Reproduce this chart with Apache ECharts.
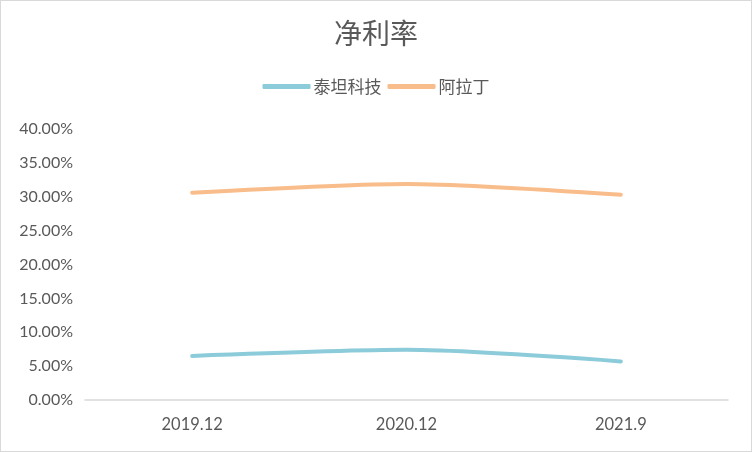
<!DOCTYPE html>
<html><head><meta charset="utf-8">
<script src="https://cdn.jsdelivr.net/npm/echarts@6/dist/echarts.min.js"></script>
<style>html,body{margin:0;padding:0;background:#fff}#c{width:752px;height:452px;box-sizing:border-box;border:1px solid #d9d9d9}</style>
</head><body><div id="c"></div>
<script>
const categories = ['2019.12', '2020.12', '2021.9'];
const taitan = [6.5, 7.4, 5.7];
const aladdin = [30.6, 31.9, 30.3];
const yTicks = [0, 5, 10, 15, 20, 25, 30, 35, 40];

const chart = echarts.init(document.getElementById('c'));
chart.setOption({
  backgroundColor: '#fff',
  title: { text: '净利率', left: 'center', top: 13,
    textStyle: { fontFamily: 'Noto Sans CJK SC', fontSize: 28, fontWeight: 'normal', color: '#595959' } },
  legend: { top: 72, left: 'center', itemWidth: 48, itemHeight: 5, itemGap: 6,
    icon: 'roundRect',
    textStyle: { fontFamily: 'Noto Sans CJK SC', fontSize: 17, color: '#595959', padding: [0, 0, 0, -2] },
    data: ['泰坦科技', '阿拉丁'] },
  grid: { left: 84, right: 23, top: 128, bottom: 51, containLabel: false },
  xAxis: { type: 'category', data: categories, boundaryGap: true,
    axisLine: { lineStyle: { color: '#d9d9d9', width: 1.5 } }, axisTick: { show: false },
    axisLabel: { fontFamily: 'Lato', fontSize: 16.5, color: '#595959', margin: 16 } },
  yAxis: { type: 'value', min: yTicks[0], max: yTicks[yTicks.length - 1], interval: 5,
    splitLine: { show: false }, axisLine: { show: false }, axisTick: { show: false },
    axisLabel: { fontFamily: 'Lato', fontSize: 16, color: '#595959', margin: 12,
      formatter: v => v.toFixed(2) + '%' } },
  series: [
    { name: '泰坦科技', type: 'line', data: taitan, smooth: 0.25, showSymbol: false,
      lineStyle: { color: '#8ccbd9', width: 4, cap: 'round' }, itemStyle: { color: '#8ccbd9' } },
    { name: '阿拉丁', type: 'line', data: aladdin, smooth: 0.25, showSymbol: false,
      lineStyle: { color: '#f8bd8a', width: 4, cap: 'round' }, itemStyle: { color: '#f8bd8a' } }
  ]
});
</script></body></html>
